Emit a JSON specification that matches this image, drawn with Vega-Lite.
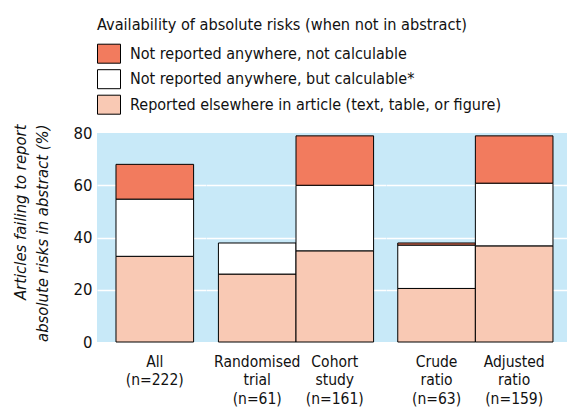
{
  "$schema": "https://vega.github.io/schema/vega-lite/v6.json",
  "padding": {"left": 12, "top": 17, "right": 0, "bottom": 0},
  "background": "white",
  "bounds": "flush",
  "spacing": 0,
  "config": {
    "font": "DejaVu Sans Condensed",
    "view": {"fill": "#c8e9f8", "stroke": null},
    "concat": {"spacing": 0},
    "axisX": {
      "domain": false, "ticks": false, "grid": false, "labelAngle": 0,
      "labelFontSize": 15.5, "labelColor": "#111", "labelPadding": 12, "labelLineHeight": 18.7,
      "labelOverlap": false, "labelFlush": false, "labelLimit": 300,
      "labelExpr": "split(datum.label, '\\n')"
    },
    "axisY": {
      "domain": false, "ticks": false, "grid": true, "gridColor": "white", "gridWidth": 1.6,
      "gridOpacity": {"condition": {"test": "datum.value === 0 || datum.value === 80", "value": 0}, "value": 1},
      "labelFontSize": 16.6, "labelColor": "#111", "labelPadding": 5
    },
    "legend": {
      "titleFontSize": 16.2, "titleFontWeight": "normal", "titleColor": "#111", "titleLimit": 600,
      "labelFontSize": 16, "labelColor": "#111", "labelLimit": 600
    }
  },
  "data": {
    "values": [
      {"study": "All\n(n=222)", "group": "Overall", "status": "Reported elsewhere in article (text, table, or figure)", "pct": 32.8},
      {"study": "All\n(n=222)", "group": "Overall", "status": "Not reported anywhere, but calculable*", "pct": 21.9},
      {"study": "All\n(n=222)", "group": "Overall", "status": "Not reported anywhere, not calculable", "pct": 13.3},
      {"study": "Randomised\ntrial\n(n=61)", "group": "Design", "status": "Reported elsewhere in article (text, table, or figure)", "pct": 26.0},
      {"study": "Randomised\ntrial\n(n=61)", "group": "Design", "status": "Not reported anywhere, but calculable*", "pct": 11.9},
      {"study": "Cohort\nstudy\n(n=161)", "group": "Design", "status": "Reported elsewhere in article (text, table, or figure)", "pct": 34.9},
      {"study": "Cohort\nstudy\n(n=161)", "group": "Design", "status": "Not reported anywhere, but calculable*", "pct": 25.1},
      {"study": "Cohort\nstudy\n(n=161)", "group": "Design", "status": "Not reported anywhere, not calculable", "pct": 18.9},
      {"study": "Crude\nratio\n(n=63)", "group": "Ratio", "status": "Reported elsewhere in article (text, table, or figure)", "pct": 20.5},
      {"study": "Crude\nratio\n(n=63)", "group": "Ratio", "status": "Not reported anywhere, but calculable*", "pct": 16.6},
      {"study": "Crude\nratio\n(n=63)", "group": "Ratio", "status": "Not reported anywhere, not calculable", "pct": 0.8},
      {"study": "Adjusted\nratio\n(n=159)", "group": "Ratio", "status": "Reported elsewhere in article (text, table, or figure)", "pct": 36.8},
      {"study": "Adjusted\nratio\n(n=159)", "group": "Ratio", "status": "Not reported anywhere, but calculable*", "pct": 24.0},
      {"study": "Adjusted\nratio\n(n=159)", "group": "Ratio", "status": "Not reported anywhere, not calculable", "pct": 18.1}
    ]
  },
  "transform": [
    {"calculate": "indexof(['Reported elsewhere in article (text, table, or figure)', 'Not reported anywhere, but calculable*', 'Not reported anywhere, not calculable'], datum.status)", "as": "stackOrder"}
  ],
  "resolve": {"scale": {"x": "independent", "y": "shared", "color": "shared"}},
  "hconcat": [
    {
      "width": 109, "height": 209,
      "transform": [{"filter": "datum.group === 'Overall'"}],
      "mark": {"type": "bar", "stroke": "black", "strokeWidth": 1},
      "encoding": {
        "x": {"field": "study", "type": "nominal", "sort": null, "title": null,
              "scale": {"paddingInner": 0, "paddingOuter": 0.2023, "align": 0.605}},
        "y": {"field": "pct", "type": "quantitative", "stack": "zero",
              "scale": {"domain": [0, 80], "nice": false},
              "axis": {"values": [0, 20, 40, 60, 80],
                       "title": ["Articles failing to report", "absolute risks in abstract (%)"],
                       "titleFontSize": 16.5, "titleFontStyle": "italic", "titleFontWeight": "normal", "titleColor": "#111",
                       "titleAngle": 270, "titleAlign": "right", "titleBaseline": "top",
                       "titleLineHeight": 22.5, "titleX": -85, "titleY": -9}},
        "color": {"field": "status", "type": "nominal",
                  "scale": {"domain": ["Not reported anywhere, not calculable", "Not reported anywhere, but calculable*", "Reported elsewhere in article (text, table, or figure)"],
                            "range": ["#f27b5e", "#ffffff", "#f9c9b4"]},
                  "legend": {"title": "Availability of absolute risks (when not in abstract)",
                             "orient": "none", "legendX": 0, "legendY": -116,
                             "titlePadding": 8.5, "rowPadding": 1.5, "labelOffset": 9,
                             "symbolType": "M-1,-0.826H1V0.826H-1Z", "symbolSize": 529,
                             "symbolStrokeColor": "black", "symbolStrokeWidth": 1, "symbolOpacity": 1}},
        "order": {"field": "stackOrder", "type": "quantitative"}
      }
    },
    {
      "width": 180, "height": 209,
      "transform": [{"filter": "datum.group === 'Design'"}],
      "mark": {"type": "bar", "stroke": "black", "strokeWidth": 1},
      "encoding": {
        "x": {"field": "study", "type": "nominal", "sort": null, "title": null,
              "scale": {"paddingInner": 0, "paddingOuter": 0.16, "align": 0.5}},
        "y": {"field": "pct", "type": "quantitative", "stack": "zero",
              "scale": {"domain": [0, 80], "nice": false},
              "axis": {"values": [0, 20, 40, 60, 80], "labels": false, "title": null}},
        "color": {"field": "status", "type": "nominal"},
        "order": {"field": "stackOrder", "type": "quantitative"}
      }
    },
    {
      "width": 181, "height": 209,
      "transform": [{"filter": "datum.group === 'Ratio'"}],
      "mark": {"type": "bar", "stroke": "black", "strokeWidth": 1},
      "encoding": {
        "x": {"field": "study", "type": "nominal", "sort": null, "title": null,
              "scale": {"paddingInner": 0, "paddingOuter": 0.166, "align": 0.456}},
        "y": {"field": "pct", "type": "quantitative", "stack": "zero",
              "scale": {"domain": [0, 80], "nice": false},
              "axis": {"values": [0, 20, 40, 60, 80], "labels": false, "title": null}},
        "color": {"field": "status", "type": "nominal"},
        "order": {"field": "stackOrder", "type": "quantitative"}
      }
    }
  ]
}
